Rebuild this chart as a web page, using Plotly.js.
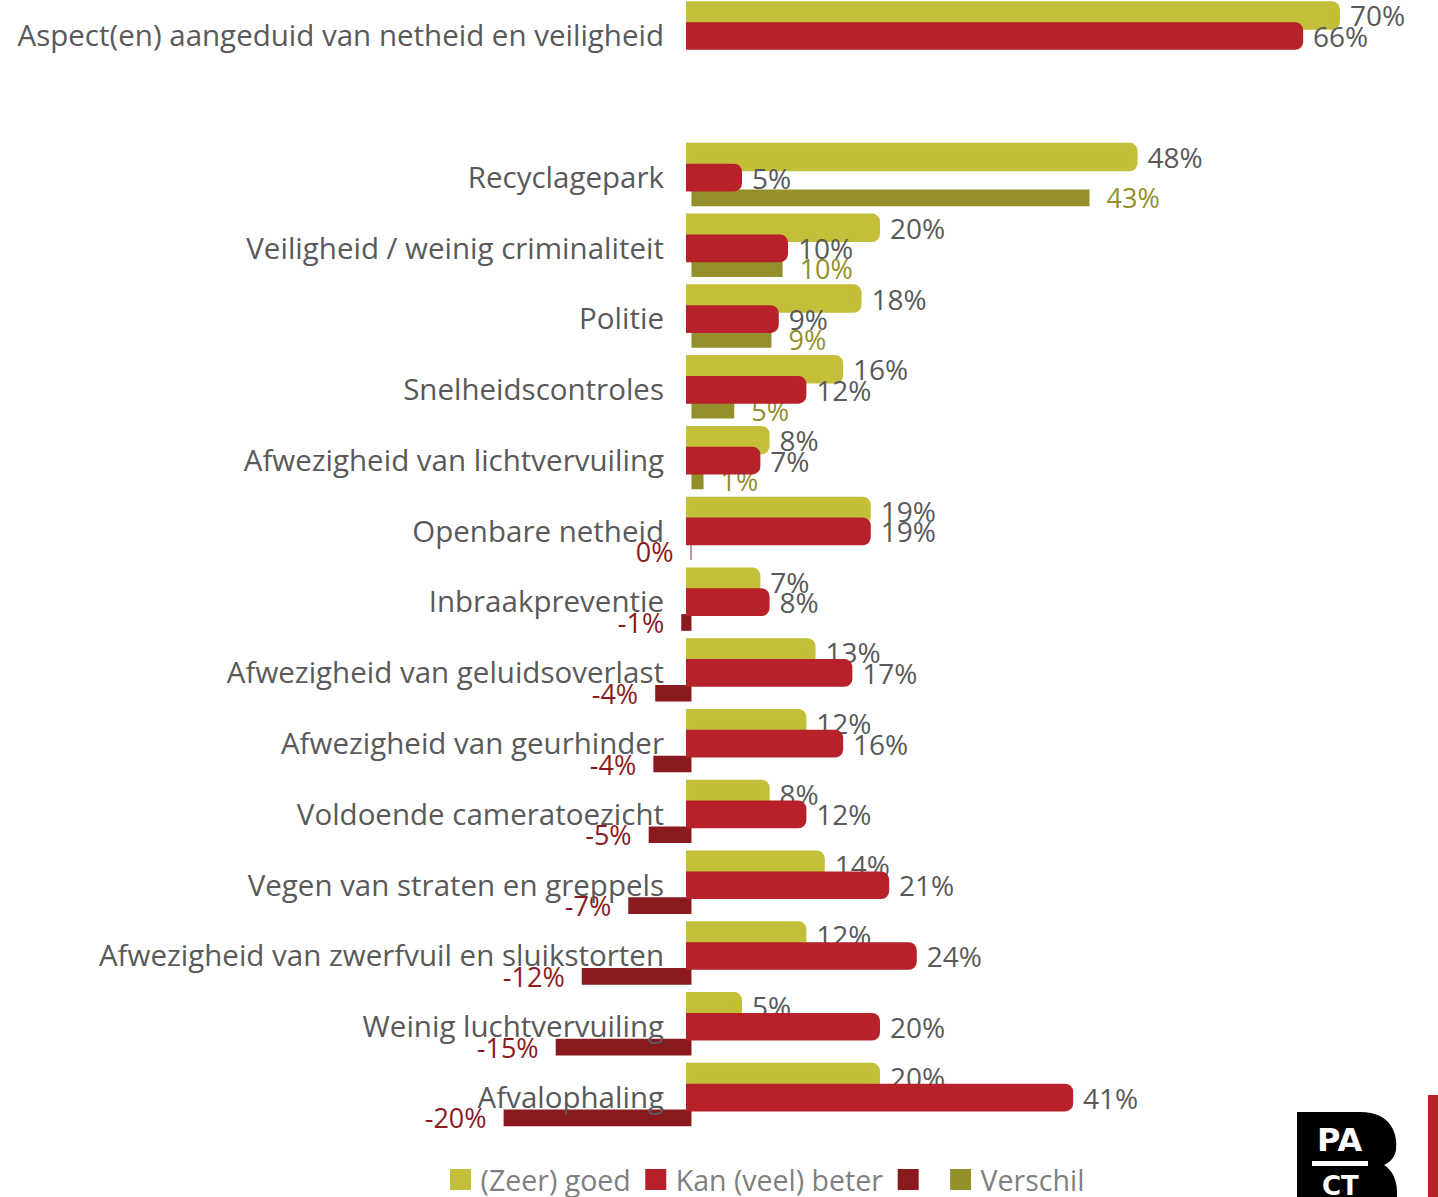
<!DOCTYPE html>
<html>
<head>
<meta charset="utf-8">
<script src="https://cdn.plot.ly/plotly-3.0.1.min.js"></script>
<style>html,body{margin:0;padding:0;background:#fff;}#chart{width:1438px;height:1197px;}</style>
</head>
<body>
<div id="chart"></div>
<script>
const categories = [
  'Aspect(en) aangeduid van netheid en veiligheid',
  'Recyclagepark',
  'Veiligheid / weinig criminaliteit',
  'Politie',
  'Snelheidscontroles',
  'Afwezigheid van lichtvervuiling',
  'Openbare netheid',
  'Inbraakpreventie',
  'Afwezigheid van geluidsoverlast',
  'Afwezigheid van geurhinder',
  'Voldoende cameratoezicht',
  'Vegen van straten en greppels',
  'Afwezigheid van zwerfvuil en sluikstorten',
  'Weinig luchtvervuiling',
  'Afvalophaling'
];
const spacer = '\u200b';
const goed =     [70, 48, 20, 18, 16, 8, 19, 7, 13, 12, 8, 14, 12, 5, 20];
const beter =    [66, 5, 10, 9, 12, 7, 19, 8, 17, 16, 12, 21, 24, 20, 41];
const verschil = [null, 42.8, 9.8, 8.6, 4.6, 1.3, -0.1, -1.1, -3.9, -4.1, -4.6, -6.8, -11.8, -14.6, -20.2];
const seriesNames = ['(Zeer) goed', 'Kan (veel) beter', 'Verschil'];

const C_GOED = '#C3BF38', C_BETER = '#B72129', C_POS = '#938F2B', C_NEG = '#8B1A1F';
const GRAY = '#595959';
const FONT = '"Open Sans", Lato, sans-serif';
const NB = '\u00a0';
const GAP = NB + '\u2009';

const order = [categories[0], spacer].concat(categories.slice(1));

const diffColors = verschil.map(v => (v != null && v < 0) ? C_NEG : C_POS);
const diffText = verschil.map(v => v == null ? '' : (v < 0 ? `${Math.round(v)}%${NB}${NB}` : `${NB}${NB}${Math.round(v)}%`));

const legendItem = (name, color, rank) => ({
  type: 'scatter', mode: 'markers', name: name, legendrank: rank,
  x: [null], y: [null], xaxis: 'x2', yaxis: 'y',
  marker: {symbol: 'square', size: 16, color: color, line: {color: color, width: 5}},
  hoverinfo: 'skip'
});

const traces = [
  {
    type: 'bar', orientation: 'h', name: seriesNames[2], showlegend: false,
    y: categories, x: verschil, xaxis: 'x', yaxis: 'y',
    offset: 0.169, width: 0.236,
    marker: {color: diffColors},
    text: diffText, textposition: 'outside', constraintext: 'none', cliponaxis: false,
    textfont: {family: FONT, size: 27, color: diffColors},
    hoverinfo: 'skip'
  },
  {
    type: 'bar', orientation: 'h', name: seriesNames[0], showlegend: false,
    y: categories, x: goed, xaxis: 'x2', yaxis: 'y',
    offset: -0.42, width: 0.26,
    marker: {color: C_GOED, cornerradius: 3, line: {color: C_GOED, width: 10}},
    text: goed.map(v => GAP + v + '%'), textposition: 'outside', constraintext: 'none', cliponaxis: false,
    textfont: {family: FONT, size: 28, color: GRAY},
    hoverinfo: 'skip'
  },
  {
    type: 'bar', orientation: 'h', name: seriesNames[1], showlegend: false,
    y: categories, x: beter, xaxis: 'x2', yaxis: 'y',
    offset: -0.125, width: 0.25,
    marker: {color: C_BETER, cornerradius: 3, line: {color: C_BETER, width: 10}},
    text: beter.map(v => GAP + v + '%'), textposition: 'outside', constraintext: 'none', cliponaxis: false,
    textfont: {family: FONT, size: 28, color: GRAY},
    hoverinfo: 'skip'
  },
  legendItem(seriesNames[0], C_GOED, 1),
  legendItem(seriesNames[1], C_BETER, 2),
  legendItem(NB, C_NEG, 3),
  legendItem(seriesNames[2], C_POS, 4)
];

const W = 1438, H = 1197, MB = 57, PH = H - MB;
const px = x => x / W;
const py = y => (PH - y) / PH;

const logoPath = () => {
  const pts = [
    ['M', 1297, 1112], ['L', 1360, 1112],
    ['C', 1392, 1112, 1398, 1135, 1396, 1150],
    ['C', 1394, 1160, 1388, 1163, 1384, 1165],
    ['C', 1392, 1170, 1398, 1180, 1397, 1197],
    ['L', 1297, 1197], ['Z']
  ];
  return pts.map(p => {
    if (p[0] === 'Z') return 'Z';
    let s = p[0];
    for (let i = 1; i < p.length; i += 2) s += (i > 1 ? ' ' : '') + px(p[i]) + ',' + py(p[i + 1]);
    return s;
  }).join(' ');
};

const layout = {
  width: W, height: H,
  margin: {l: 0, r: 0, t: 0, b: MB, autoexpand: false},
  paper_bgcolor: '#fff', plot_bgcolor: 'rgba(0,0,0,0)',
  barmode: 'overlay',
  font: {family: FONT, color: GRAY},
  xaxis: {domain: [0, 1], range: [-74.35, 80.27], visible: false, fixedrange: true},
  xaxis2: {overlaying: 'x', range: [-75.11, 81.2], visible: false, fixedrange: true},
  yaxis: {
    type: 'category', categoryorder: 'array', categoryarray: order,
    tickmode: 'array', tickvals: categories, ticktext: categories,
    range: [15.6, -0.5087], anchor: 'free', position: 686 / W,
    showgrid: false, zeroline: false, showline: false, ticks: '',
    ticklabelstandoff: 22,
    tickfont: {family: FONT, size: 29.5, color: GRAY}
  },
  showlegend: true,
  legend: {
    orientation: 'h', x: 0.532, xanchor: 'center', y: py(1180), yanchor: 'middle',
    font: {family: FONT, size: 28.5, color: '#7f7f7f'}, itemwidth: 30,
    bgcolor: 'rgba(0,0,0,0)', traceorder: 'normal', itemsizing: 'trace'
  },
  shapes: [
    {type: 'path', xref: 'paper', yref: 'paper', path: logoPath(), fillcolor: '#000', line: {width: 0}, layer: 'above'},
    {type: 'rect', xref: 'paper', yref: 'paper', x0: px(1312), x1: px(1368), y0: py(1161), y1: py(1166), fillcolor: '#fff', line: {width: 0}, layer: 'above'},
    {type: 'rect', xref: 'paper', yref: 'paper', x0: px(1428), x1: px(1438), y0: py(1095), y1: py(1197), fillcolor: C_BETER, line: {width: 0}, layer: 'above'}
  ],
  annotations: [
    {xref: 'paper', yref: 'paper', x: px(1340), y: py(1140), text: '<b>PA</b>', showarrow: false,
     font: {family: '"DejaVu Sans", sans-serif', size: 32, color: '#fff'}, xanchor: 'center', yanchor: 'middle'},
    {xref: 'paper', yref: 'paper', x: px(1340), y: py(1186), text: '<b>CT</b>', showarrow: false,
     font: {family: '"DejaVu Sans", sans-serif', size: 26, color: '#fff'}, xanchor: 'center', yanchor: 'middle'}
  ]
};

Plotly.newPlot('chart', traces, layout, {displayModeBar: false, staticPlot: true});
</script>
</body>
</html>
